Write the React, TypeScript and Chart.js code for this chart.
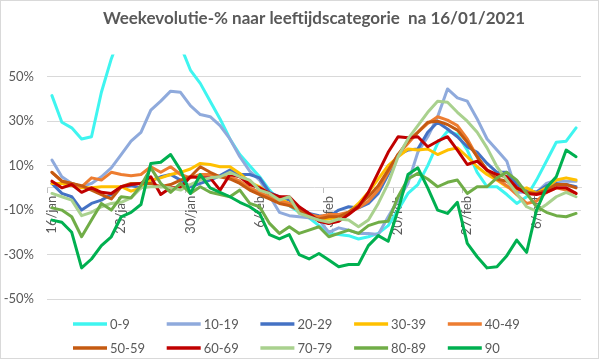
import React, { useEffect, useRef } from "react";
import { Chart, registerables } from "chart.js";

Chart.register(...registerables);

const dates = [
  "16/jan", "17/jan", "18/jan", "19/jan", "20/jan", "21/jan", "22/jan", "23/jan", "24/jan", "25/jan",
  "26/jan", "27/jan", "28/jan", "29/jan", "30/jan", "31/jan", "1/feb", "2/feb", "3/feb", "4/feb",
  "5/feb", "6/feb", "7/feb", "8/feb", "9/feb", "10/feb", "11/feb", "12/feb", "13/feb", "14/feb",
  "15/feb", "16/feb", "17/feb", "18/feb", "19/feb", "20/feb", "21/feb", "22/feb", "23/feb", "24/feb",
  "25/feb", "26/feb", "27/feb", "28/feb", "1/mrt", "2/mrt", "3/mrt", "4/mrt", "5/mrt", "6/mrt",
  "7/mrt", "8/mrt", "9/mrt", "10/mrt",
];

const seriesNames = ["0-9", "10-19", "20-29", "30-39", "40-49", "50-59", "60-69", "70-79", "80-89", "90"];
const seriesColors = ["#3ff5f0", "#8faadc", "#4472c4", "#ffc000", "#ed7d31", "#c55a11", "#c00000", "#a9d18e", "#70ad47", "#00b050"];

const age0_9 = [41.5, 29.5, 27, 22, 23, 43, 58, 70, 80, 85, 85, 80, 75, 64, 53, 47, 39, 31, 22, 15, 10, 5, -1, -6, -8, -11, -13.5, -17, -20.5, -21, -21.5, -23, -22, -20.5, -17, -10, -2.5, 1.5, 10, 20, 25.5, 24, 17, 7, 0.5, 0.5, -3, -7, -4, 3.5, 12, 20.5, 21, 27];
const age10_19 = [12.5, 5, 2, 0.5, 2, 5, 9, 15, 21, 25, 35, 39, 43.5, 43, 37, 33, 32, 28, 22, 14, 7.5, 3.5, -3.5, -11, -12.5, -13, -13.5, -14.5, -20, -18, -19, -20.5, -20.5, -21, -13, -5.5, 2, 16, 23, 32, 44.5, 40.5, 39, 31, 22, 17, 12, -2, -2, -2, 2, 3.5, 3, 3];
const age20_29 = [2, -2.5, -4, -10, -7, -5.5, -3, 0.5, 1, 0, 3, 5, 6, 3.5, 0.5, 2, 3.5, 5.5, 8, 6, 6, 4.5, -2, -4, -5.5, -9, -11.5, -12.5, -13, -10, -8.5, -9, -7, -2.5, 6, 15, 17, 17.5, 25, 29.5, 26.5, 23, 18.5, 16, 11, 7, 7, 1.5, -1, -2, 1, 2, 1.5, 0.5];
const age30_39 = [2, 2, 1, 0, 0, 0.5, 0.5, 0.5, -1.5, 0, 3.5, 4.5, 6, 7, 8.5, 11, 10.5, 9.5, 9.5, 6.5, 2.5, 0.5, -3, -5, -7, -9, -12, -14, -14, -13, -11, -7, -2, 4, 10, 14, 17.5, 17, 17.5, 15, 17, 18, 14, 9.5, 6, 3.5, 0.5, -1, 0, -2.5, 0, 3.5, 4.5, 3.5];
const age40_49 = [7, 3, 2, 0.5, 4.5, 3.5, 7, 6, 5.5, 6, 9.5, 7, 9.5, 6, 4.5, 6, 6, 5, 5, 3, 0, -2, -4, -6, -7, -9, -12, -13, -12, -12, -11, -9, -6, -1, 7, 15, 20, 25, 29, 32, 30.5, 28, 22, 14, 8, 4, 1, -3, -7, -6, -2, 0, -1, -2.5];
const age50_59 = [7, 3, 2, 1, -1, -3, -5, 0.5, 2, 2, 2, 0.5, 1.5, 3.5, 5, 9.5, 7, 5, 4, 2, -1, -3, -5, -7, -8, -10, -13, -14, -13, -13, -11, -8, -4, 1, 8, 15, 21, 25, 29.5, 30, 28.5, 26, 20.5, 14, 8, 4, 3, 0, -2, -2.5, -1, 1.5, 1.5, 0];
const age60_69 = [3, 0, 1.5, -2, 0, -2, -2.5, 0.5, 1.5, 2, 5, -3, 0, 0, 5, 4.5, 4.5, -1, 6, 5, 1.5, 0, -2.5, -4, -4, -8.5, -11.5, -15, -16, -15, -12, -8.5, -2, 7, 16, 23, 22.5, 23, 18.5, 21, 23, 17, 10.5, 12, 8, 6, 5, 0, -2.5, -3, -2, 0, 0, -2.5];
const age70_79 = [-2.5, -4, -5.5, -12.5, -11, -8.5, -7, -6.5, -4.5, 0, 0.5, 0.5, 0, -1, 1.5, 3.5, 4.5, 5, 7, 5, 3.5, -1, -2.5, -5.5, -4, -11.5, -13, -14.5, -15.5, -14, -14.5, -17.5, -14.5, -7, 2, 14, 22, 28, 34, 39, 38.5, 34, 30, 25, 18, 9.5, 3.5, -2.5, -8.5, -10.5, -7.5, -4, -2, -4];
const age80_89 = [-9, -10, -13, -22, -14.5, -7, -10, -4, -4.5, 1, 9, 2, -2, 2, -2.5, 0.5, -2, -3, -4, -1, -7, -8.5, -16, -20.5, -17.5, -20.5, -19, -17.5, -22, -20.5, -19, -20.5, -17, -15.5, -15, -4, 4, 6.5, 4, 0.5, 2.5, 3.5, -2.5, 0.5, 0.5, 4.5, 7, 3.5, -2.5, -8.5, -11, -12.5, -13, -11.5];
const age90 = [-14.5, -15.5, -20, -36, -32, -26, -22, -13, -11, -7.5, 11, 11.5, 15, 8, -2.5, 6, 0, -2, -4, -6.5, -8.5, -11.5, -21, -23, -21, -30, -32, -29.5, -32.5, -35.5, -34.5, -34.5, -26, -21.5, -24, -10, 6, 9, 0, -10, -11.5, -6.5, -25, -31, -36, -35.5, -30.5, -23.5, -29, -10, 0, 5, 17, 14];

const seriesValues = [age0_9, age10_19, age20_29, age30_39, age40_49, age50_59, age60_69, age70_79, age80_89, age90];
const yTickValues = [-50, -30, -10, 10, 30, 50];

const TEXT = "#595959";
const FONT = "Lato, 'Open Sans', sans-serif";

const frame = {
  id: "frame",
  beforeDraw(chart: any) {
    const { ctx, width, height } = chart;
    ctx.save();
    ctx.fillStyle = "#ffffff";
    ctx.fillRect(0, 0, width, height);
    ctx.strokeStyle = "#d9d9d9";
    ctx.lineWidth = 1;
    ctx.strokeRect(0.5, 0.5, width - 1, height - 1);
    ctx.restore();
  },
};

const excelLegend = {
  id: "excelLegend",
  afterDraw(chart: any) {
    const ctx = chart.ctx;
    ctx.save();
    ctx.font = "13px " + FONT;
    ctx.textBaseline = "middle";
    ctx.textAlign = "left";
    chart.data.datasets.forEach((ds: any, i: number) => {
      const col = i % 5;
      const row = Math.floor(i / 5);
      const x = 73 + col * 93.7;
      const y = 324 + row * 24;
      ctx.strokeStyle = ds.borderColor;
      ctx.lineWidth = 3.5;
      ctx.lineCap = "butt";
      ctx.beginPath();
      ctx.moveTo(x, y);
      ctx.lineTo(x + 34, y);
      ctx.stroke();
      ctx.fillStyle = TEXT;
      ctx.fillText(ds.label, x + 37, y + 1);
    });
    ctx.restore();
  },
};

export default function App() {
  const ref = useRef<HTMLCanvasElement>(null);
  useEffect(() => {
    const chart = new Chart(ref.current as HTMLCanvasElement, {
      type: "line",
      data: {
        labels: dates,
        datasets: seriesNames.map((name, i) => ({
          label: name,
          data: seriesValues[i],
          borderColor: seriesColors[i],
          backgroundColor: seriesColors[i],
          borderWidth: 3,
          pointRadius: 0,
          pointHoverRadius: 0,
          tension: 0,
          borderJoinStyle: "round" as const,
          borderCapStyle: "round" as const,
          fill: false,
          order: seriesNames.length - 1 - i,
        })),
      },
      options: {
        responsive: false,
        animation: false,
        devicePixelRatio: 1,
        layout: { padding: { left: 0, right: 18, top: 0, bottom: 60 } },
        plugins: {
          legend: { display: false },
          tooltip: { enabled: false },
          title: {
            display: true,
            text: "Weekevolutie-% naar leeftijdscategorie  na 16/01/2021",
            color: TEXT,
            fullSize: false,
            font: { family: FONT, size: 17, weight: "bold" },
            padding: { top: 8, bottom: 26.1 },
          },
        },
        scales: {
          x: {
            type: "category",
            position: { y: 0 } as any,
            offset: true,
            grid: {
              drawOnChartArea: false,
              drawTicks: true,
              tickLength: 5,
              offset: true,
              color: (c: any) => (c.index % 7 === 0 ? "#bfbfbf" : "rgba(0,0,0,0)"),
            },
            border: { display: true, color: "#d9d9d9" },
            ticks: {
              autoSkip: false,
              minRotation: 90,
              maxRotation: 90,
              padding: 3,
              color: TEXT,
              font: { family: FONT, size: 13 },
              callback: (_v: any, idx: number) => (idx % 7 === 0 ? dates[idx] : ""),
            },
          },
          y: {
            min: -50,
            max: 60,
            afterFit: (scale: any) => {
              scale.width = 47;
            },
            afterBuildTicks: (scale: any) => {
              scale.ticks = yTickValues.map((v) => ({ value: v }));
            },
            grid: { color: "#d9d9d9", lineWidth: 1, drawTicks: false },
            border: { display: false },
            ticks: {
              padding: 13,
              color: TEXT,
              font: { family: FONT, size: 13 },
              callback: (v: any) => v + "%",
            },
          },
        },
      },
      plugins: [frame, excelLegend],
    });
    return () => chart.destroy();
  }, []);
  return (
    <div style={{ position: "fixed", left: 0, top: 0, width: 599, height: 359 }}>
      <canvas ref={ref} width={599} height={359} style={{ display: "block" }} />
    </div>
  );
}
